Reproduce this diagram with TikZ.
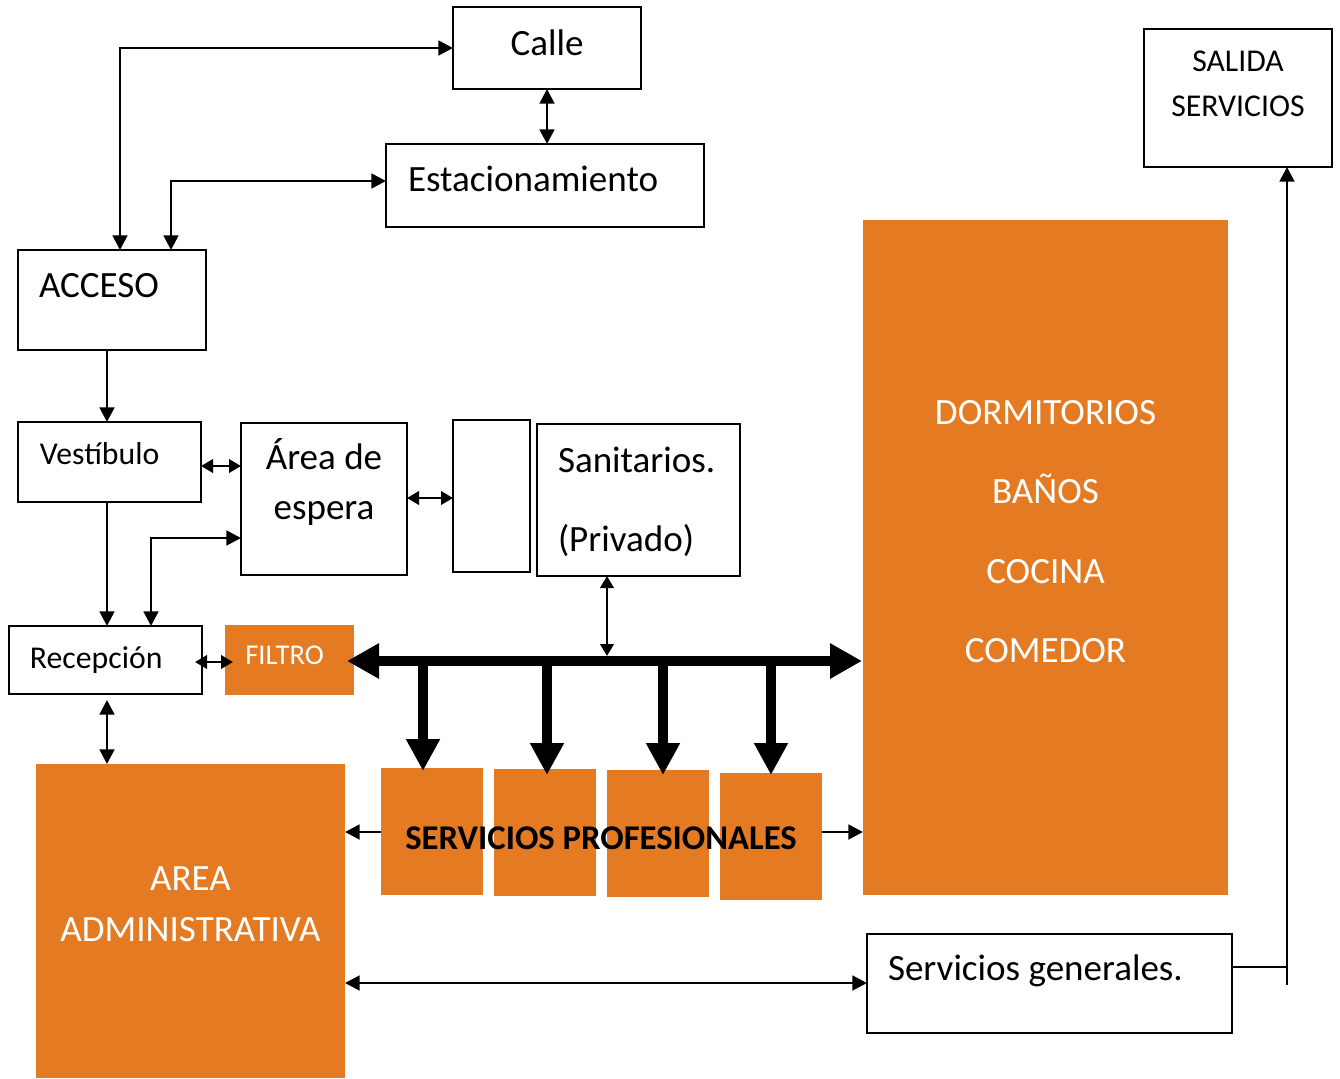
\documentclass[tikz,border=0pt]{standalone}
\usepackage{fontspec}
\setmainfont{Carlito}
\usetikzlibrary{arrows.meta}
\definecolor{orng}{RGB}{228,122,34}
\begin{document}
\begin{tikzpicture}[x=0.75pt,y=-0.75pt,
  box/.style={draw=black, line width=1.5pt, fill=white, inner sep=0pt, outer sep=0pt},
  obox/.style={fill=orng, draw=none, inner sep=0pt, outer sep=0pt},
  big/.style={font=\fontsize{27.8}{33}\selectfont, inner sep=0pt, outer sep=0pt},
  mid/.style={font=\fontsize{23.8}{28}\selectfont, inner sep=0pt, outer sep=0pt},
  wtxt/.style={text=white},
  conn/.style={line width=2.1pt, {Triangle[length=11pt,width=11pt]}-{Triangle[length=11pt,width=11pt]}},
  conr/.style={line width=2.1pt, -{Triangle[length=11pt,width=11pt]}},
  sconn/.style={line width=2.1pt, {Triangle[length=9pt,width=10pt]}-{Triangle[length=9pt,width=10pt]}},
  bus/.style={line width=8pt, {Triangle[length=24pt,width=25pt]}-{Triangle[length=24pt,width=25pt]}},
  drop/.style={line width=7.5pt, -{Triangle[length=24pt,width=24pt]}},
  plain/.style={line width=2.1pt}
]
\useasboundingbox (0,0) rectangle (1340,1079);

% boxes
\node[box, minimum width=141pt, minimum height=61.5pt] (calle) at (547,48) {};
\node[box, minimum width=238.5pt, minimum height=62.25pt] (estac) at (545,185.5) {};
\node[box, minimum width=141pt, minimum height=75pt] (acceso) at (112,300) {};
\node[box, minimum width=141pt, minimum height=103.5pt] (salida) at (1238,98) {};
\node[obox, minimum width=273.75pt, minimum height=506.25pt] (dorm) at (1045.5,557.5) {};
\node[box, minimum width=137.25pt, minimum height=60pt] (vest) at (109.5,462) {};
\node[box, minimum width=124.5pt, minimum height=114pt] (area) at (324,499) {};
\node[box, minimum width=57.75pt, minimum height=114pt] (empty) at (491.5,496) {};
\node[box, minimum width=152.25pt, minimum height=114pt] (sanit) at (638.5,500) {};
\node[box, minimum width=144.75pt, minimum height=51pt] (recep) at (105.5,660) {};
\node[obox, minimum width=96.75pt, minimum height=52.5pt] (filtro) at (289.5,660) {};
\node[obox, minimum width=231.75pt, minimum height=235.5pt] (admin) at (190.5,921) {};
\node[obox, minimum width=76.5pt, minimum height=95.25pt] (sp1) at (432,831.5) {};
\node[obox, minimum width=76.5pt, minimum height=95.25pt] (sp2) at (545,832.5) {};
\node[obox, minimum width=76.5pt, minimum height=95.25pt] (sp3) at (658,833.5) {};
\node[obox, minimum width=76.5pt, minimum height=95.25pt] (sp4) at (771,836.5) {};
\node[box, minimum width=273.75pt, minimum height=74.25pt] (sg) at (1049.5,983.5) {};

% texts
\node[big, anchor=base] (tcalle) at (547,55) {Calle};
\node[big, anchor=base west] (testac) at (408,191) {Estacionamiento};
\node[big, anchor=base west] (tacceso) at (39,297) {ACCESO};
\node[mid, anchor=base] (tsal1) at (1238,71) {SALIDA};
\node[mid, anchor=base] (tsal2) at (1238,116) {SERVICIOS};
\node[big, wtxt, anchor=base] (td1) at (1045.5,424) {DORMITORIOS};
\node[big, wtxt, anchor=base] (td2) at (1045.5,503) {BAÑOS};
\node[big, wtxt, anchor=base] (td3) at (1045.5,583) {COCINA};
\node[big, wtxt, anchor=base] (td4) at (1045.5,662) {COMEDOR};
\node[mid, anchor=base west] (tvest) at (40,464) {Vestíbulo};
\node[big, anchor=base] (tarea1) at (324,469) {Área de};
\node[big, anchor=base] (tarea2) at (324,519) {espera};
\node[big, anchor=base west] (tsan1) at (558,472) {Sanitarios.};
\node[big, anchor=base west] (tsan2) at (558,551) {(Privado)};
\node[mid, anchor=base west] (trecep) at (30,668) {Recepción};
\node[wtxt, anchor=base west, inner sep=0pt, font=\fontsize{21.5}{25}\selectfont] (tfiltro) at (245,664) {FILTRO};
\node[big, wtxt, anchor=base] (tadm1) at (190.5,890) {AREA};
\node[big, wtxt, anchor=base] (tadm2) at (190.5,941) {ADMINISTRATIVA};
\node[anchor=base, inner sep=0pt, font=\fontsize{26}{31}\selectfont\bfseries] (tsp) at (601,849) {SERVICIOS PROFESIONALES};
\node[big, anchor=base west] (tsg) at (888,980) {Servicios generales.};

% connectors top
\draw[conn] (acceso.north -| 120,0) |- (calle.west);
\draw[conn] (acceso.north -| 171,0) |- (estac.west |- 0,181);
\draw[conn] (calle.south) -- (estac.north -| calle.south);
\draw[conr] (acceso.south -| 107,0) -- (vest.north -| 107,0);
\draw[sconn] (vest.east |- 0,466) -- (area.west |- 0,466);
\draw[sconn] (area.east |- 0,498) -- (empty.west |- 0,498);
\draw[conr] (vest.south -| 107,0) -- (recep.north -| 107,0);
\draw[conn] (recep.north -| 151,0) |- (area.west |- 0,538);
\coordinate (rfL) at (195,662);
\coordinate (rfR) at (233,662);
\draw[sconn] (rfL) -- (rfR);
\coordinate (raT) at (107,700);
\draw[conn] (raT) -- (admin.north -| 107,0);

% bus
\coordinate (busL) at (347,661);
\coordinate (busR) at (862,661);
\draw[bus] (busL) -- (busR);
\coordinate (d1) at (423,661);
\coordinate (d2) at (547,661);
\coordinate (d3) at (663,661);
\coordinate (d4) at (771,661);
\draw[drop] (d1) -- (d1 |- 0,771);
\draw[drop] (d2) -- (d2 |- 0,775);
\draw[drop] (d3) -- (d3 |- 0,775);
\draw[drop] (d4) -- (d4 |- 0,775);
\coordinate (sb) at (607,656);
\draw[sconn] (sanit.south -| sb) -- (sb);

% side arrows of servicios profesionales
\draw[conr] (sp1.west |- 0,832) -- (admin.east |- 0,832);
\draw[conr] (sp4.east |- 0,832) -- (dorm.west |- 0,832);

% bottom
\draw[conn] (admin.east |- 0,983) -- (sg.west |- 0,983);
\coordinate (jn) at (1287,985);
\draw[plain] (sg.east |- 0,967) -- (jn |- 0,967);
\draw[conr] (jn) -- (salida.south -| jn);

\end{tikzpicture}
\end{document}
